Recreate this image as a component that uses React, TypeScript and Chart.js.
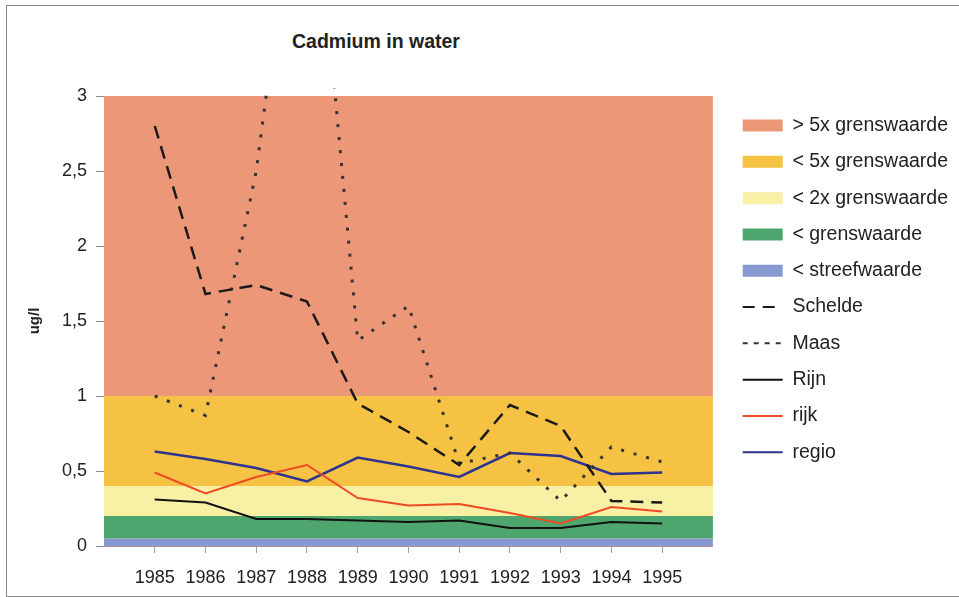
import React, { useEffect, useRef } from "react";
import { Chart, registerables } from "chart.js";

Chart.register(...registerables);

const years = [1985, 1986, 1987, 1988, 1989, 1990, 1991, 1992, 1993, 1994, 1995];
const xRange = [1984, 1996];

const bandLabels = ["> 5x grenswaarde", "< 5x grenswaarde", "< 2x grenswaarde", "< grenswaarde", "< streefwaarde"];
const bandTops = [3, 1, 0.4, 0.2, 0.05];
const bandColors = ["#ec9878", "#f5c244", "#f8f0a4", "#4ea56e", "#8898d0"];

const seriesLabels = ["Schelde", "Maas", "Rijn", "rijk", "regio"];
const schelde = [2.8, 1.68, 1.74, 1.63, 0.95, 0.76, 0.54, 0.94, 0.8, 0.3, 0.29];
const maas = [1.0, 0.87, 2.5, 5.05, 1.37, 1.6, 0.55, 0.62, 0.3, 0.66, 0.56];
const rijn = [0.31, 0.29, 0.18, 0.18, 0.17, 0.16, 0.17, 0.12, 0.12, 0.16, 0.15];
const rijk = [0.49, 0.35, 0.46, 0.54, 0.32, 0.27, 0.28, 0.22, 0.15, 0.26, 0.23];
const regio = [0.63, 0.58, 0.52, 0.43, 0.59, 0.53, 0.46, 0.62, 0.6, 0.48, 0.49];
const seriesValues = [schelde, maas, rijn, rijk, regio];
const seriesColors = ["#1a1a1a", "#333333", "#111111", "#f04a22", "#2e3390"];
const seriesDash = [[13, 8], [3, 10], [], [], []];
const seriesWidths = [2.5, 3, 2, 2, 2.5];

const yTickValues = [0, 0.5, 1, 1.5, 2, 2.5, 3];
const yTickLabels = ["0", "0,5", "1", "1,5", "2", "2,5", "3"];

const FONT = "'Liberation Sans', Arial, sans-serif";

const shiftLegend = {
  id: "shiftLegend",
  afterLayout(chart: any) {
    const lg = chart.legend;
    if (!lg) return;
    lg.left += 13;
    lg.right += 13;
    lg.top += 3;
    lg.bottom += 3;
  },
};

export default function App() {
  const ref = useRef<HTMLCanvasElement>(null);

  useEffect(() => {
    if (!ref.current) return;
    const bandSets = bandTops.map((top, i) => ({
      type: "line" as const,
      label: bandLabels[i],
      data: [
        { x: xRange[0], y: top },
        { x: xRange[1], y: top },
      ],
      backgroundColor: bandColors[i],
      borderColor: bandColors[i],
      borderWidth: 0,
      pointRadius: 0,
      fill: i < bandTops.length - 1 ? "+1" : "origin",
      order: 10,
    }));
    const lineSets = seriesLabels.map((label, i) => ({
      type: "line" as const,
      label,
      data: years.map((y, j) => ({ x: y, y: seriesValues[i][j] })),
      borderColor: seriesColors[i],
      backgroundColor: seriesColors[i],
      borderWidth: seriesWidths[i],
      borderDash: seriesDash[i],
      pointRadius: 0,
      fill: false,
      tension: 0,
      order: 1,
      clip: { left: 5, top: 8, right: 5, bottom: 5 },
    }));

    const chart = new Chart(ref.current, {
      type: "line",
      data: { datasets: [...bandSets, ...lineSets] as any },
      plugins: [shiftLegend],
      options: {
        animation: false,
        responsive: false,
        layout: { padding: { top: 96, left: 16, right: 14, bottom: 6 } },
        plugins: {
          title: { display: false },
          tooltip: { enabled: false },
          legend: {
            position: "right",
            align: "start",
            labels: {
              usePointStyle: true,
              pointStyleWidth: 40,
              boxHeight: 12,
              padding: 16.8,
              color: "#222",
              font: { family: FONT, size: 19.5 },
              sort: (a: any, b: any) => a.datasetIndex - b.datasetIndex,
              generateLabels: () => [
                ...bandLabels.map((t, i) => ({
                  text: t,
                  fillStyle: bandColors[i],
                  strokeStyle: bandColors[i],
                  lineWidth: 0,
                  lineDash: [],
                  pointStyle: "rect",
                  hidden: false,
                  datasetIndex: i,
                  fontColor: "#222",
                })),
                ...seriesLabels.map((t, i) => ({
                  text: t,
                  fillStyle: seriesColors[i],
                  strokeStyle: seriesColors[i],
                  lineWidth: 2,
                  lineDash: i === 0 ? [12, 8] : i === 1 ? [5, 6] : [],
                  pointStyle: "line",
                  hidden: false,
                  datasetIndex: bandLabels.length + i,
                  fontColor: "#222",
                })),
              ],
            },
          },
        },
        scales: {
          x: {
            type: "linear",
            min: xRange[0],
            max: xRange[1],
            afterBuildTicks: (axis: any) => {
              axis.ticks = years.map((v) => ({ value: v }));
            },
            afterFit: (scale: any) => {
              scale.height = 45;
            },
            ticks: {
              autoSkip: false,
              maxRotation: 0,
              padding: 14,
              color: "#222",
              font: { family: FONT, size: 18 },
              callback: (v: any) => String(v),
            },
            grid: { drawOnChartArea: false, drawTicks: true, tickLength: 7, color: "#9a9ab0" },
            border: { display: true, color: "#b09090" },
          },
          y: {
            min: 0,
            max: 3,
            afterBuildTicks: (axis: any) => {
              axis.ticks = yTickValues.map((v) => ({ value: v }));
            },
            afterFit: (scale: any) => {
              scale.width = 88;
            },
            ticks: {
              padding: 9,
              color: "#222",
              font: { family: FONT, size: 18 },
              callback: (v: any) => {
                const k = yTickValues.indexOf(Number(v));
                return k >= 0 ? yTickLabels[k] : "";
              },
            },
            title: {
              display: true,
              text: "ug/l",
              color: "#222",
              font: { family: FONT, size: 15, weight: "bold" },
              padding: { top: 10, bottom: 20 },
            },
            grid: { drawOnChartArea: false, drawTicks: true, tickLength: 8, color: "#8a8aa0" },
            border: { display: true, color: "#8a8aa0" },
          },
        },
      },
    });
    return () => chart.destroy();
  }, []);

  return (
    <div>
      <div
        style={{
          position: "absolute",
          left: 6,
          top: 5,
          width: 953,
          height: 592,
          boxSizing: "border-box",
          borderTop: "1px solid #8a8a8a",
          borderLeft: "1px solid #8a8a8a",
          borderBottom: "1px solid #8a8a8a",
        }}
      />
      <div
        style={{
          position: "absolute",
          left: 292,
          top: 31,
          fontFamily: FONT,
          fontWeight: "bold",
          fontSize: 19.5,
          lineHeight: "21px",
          color: "#222",
          whiteSpace: "nowrap",
        }}
      >
        Cadmium in water
      </div>
      <div style={{ position: "absolute", left: 0, top: 0, width: 959, height: 597 }}>
        <canvas ref={ref} width={959} height={597} />
      </div>
    </div>
  );
}
